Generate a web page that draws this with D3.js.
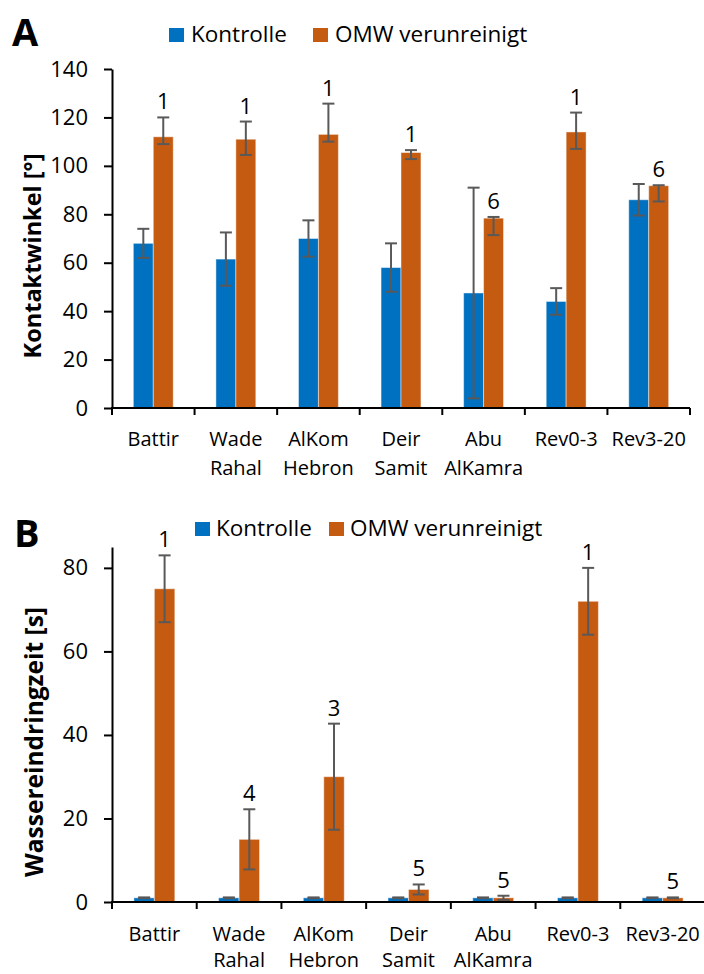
<!DOCTYPE html>
<html>
<head>
<meta charset="utf-8">
<script src="https://cdn.jsdelivr.net/npm/d3@7"></script>
<style>
  html, body { margin: 0; padding: 0; background: #fff; }
  svg { display: block; }
  text { font-family: "Open Sans", "Noto Sans", sans-serif; fill: #000; }
</style>
</head>
<body>
<svg id="chart" width="704" height="974"></svg>
<script>
// Sampling sites
const categories = ["Battir", "Wade Rahal", "AlKom Hebron", "Deir Samit", "Abu AlKamra", "Rev0-3", "Rev3-20"];
const seriesNames = ["Kontrolle", "OMW verunreinigt"];
const seriesColors = ["#0070C0", "#C55A11"];

// Panel A: contact angle [°]
const contactKontrolle     = [68, 61.5, 70, 58, 47.5, 44, 86];
const contactKontrolleErr  = [6, 11, 7.5, 10, 43.5, 5.5, 6.5];
const contactOmw           = [112, 111, 113, 105.5, 78.4, 114, 91.8];
const contactOmwErrUp      = [8, 7.3, 12.7, 1, 0.5, 8, 0.2];
const contactOmwErrDown    = [3, 6.5, 3, 2.7, 7, 7, 6.5];
const contactOmwLabels     = ["1", "1", "1", "1", "6", "1", "6"];
const contactTicks         = [0, 20, 40, 60, 80, 100, 120, 140];

// Panel B: water penetration time [s]
const waterKontrolle       = [1, 1, 1, 1, 1, 1, 1];
const waterKontrolleErr    = [0.1, 0.1, 0.1, 0.1, 0.1, 0.1, 0.1];
const waterOmw             = [75, 15, 30, 3, 1, 72, 1];
const waterOmwErr          = [8, 7.2, 12.7, 1.2, 0.5, 8, 0.1];
const waterOmwLabels       = ["1", "4", "3", "5", "5", "1", "5"];
const waterTicks           = [0, 20, 40, 60, 80];

const svg = d3.select("#chart");

function buildSeries(k, kErrUp, kErrDown, o, oErrUp, oErrDown) {
  return categories.map((c, i) => ({
    cat: c,
    bars: [
      { s: 0, v: k[i], up: kErrUp[i], down: kErrDown[i] },
      { s: 1, v: o[i], up: oErrUp[i], down: oErrDown[i] }
    ]
  }));
}

function drawPanel(p) {
  const g = svg.append("g");

  const x0 = d3.scaleBand().domain(categories).range([p.x0, p.x1]).padding(0);
  const x1 = d3.scaleBand().domain([0, 1]).range([0, x0.bandwidth()])
    .paddingInner(0).paddingOuter(1.07);
  const y = d3.scaleLinear().domain(p.yDomain).range([p.yBottom, p.yTop]);

  // bars
  const groups = g.selectAll("g.grp").data(p.data).join("g")
    .attr("transform", d => `translate(${x0(d.cat)},0)`);

  groups.selectAll("rect").data(d => d.bars).join("rect")
    .attr("x", b => x1(b.s))
    .attr("width", x1.bandwidth())
    .attr("y", b => y(b.v))
    .attr("height", b => y(0) - y(b.v))
    .attr("fill", b => seriesColors[b.s])
    .attr("stroke", "#fff").attr("stroke-opacity", 0.45).attr("stroke-width", 1);

  // error bars
  const capHalf = 6;
  const eb = groups.selectAll("g.err").data(d => d.bars).join("g")
    .attr("class", "err")
    .attr("stroke", "#595959").attr("stroke-width", 2);
  eb.append("line")
    .attr("x1", b => x1(b.s) + x1.bandwidth() / 2)
    .attr("x2", b => x1(b.s) + x1.bandwidth() / 2)
    .attr("y1", b => y(b.v + b.up))
    .attr("y2", b => y(Math.max(0, b.v - b.down)));
  eb.append("line")
    .attr("x1", b => x1(b.s) + x1.bandwidth() / 2 - capHalf)
    .attr("x2", b => x1(b.s) + x1.bandwidth() / 2 + capHalf)
    .attr("y1", b => y(b.v + b.up)).attr("y2", b => y(b.v + b.up));
  eb.append("line")
    .attr("x1", b => x1(b.s) + x1.bandwidth() / 2 - capHalf)
    .attr("x2", b => x1(b.s) + x1.bandwidth() / 2 + capHalf)
    .attr("y1", b => y(Math.max(0, b.v - b.down))).attr("y2", b => y(Math.max(0, b.v - b.down)));

  // group labels above the OMW bars
  groups.append("text")
    .attr("x", x1(1) + x1.bandwidth() / 2)
    .attr("y", (d, i) => y(d.bars[1].v + d.bars[1].up) - 8)
    .attr("text-anchor", "middle")
    .style("font-size", "22px")
    .text((d, i) => p.labels[i]);

  // y axis
  const yAxis = g.append("g")
    .attr("transform", `translate(${p.x0},0)`)
    .call(d3.axisLeft(y).tickValues(p.ticks).tickSize(8).tickPadding(16).tickSizeOuter(0));
  yAxis.select(".domain").attr("stroke", "#000").attr("stroke-width", 2);
  yAxis.selectAll(".tick line").attr("stroke", "#000").attr("stroke-width", 2);
  yAxis.selectAll(".tick text").style("font-size", "22px")
    .style("font-family", "'Open Sans', sans-serif").attr("fill", "#000");

  // x axis with ticks between categories
  g.append("line")
    .attr("x1", p.x0 - 1).attr("x2", p.x1)
    .attr("y1", y(0)).attr("y2", y(0))
    .attr("stroke", "#000").attr("stroke-width", 2);
  const boundaries = categories.map(c => x0(c)).concat([x0(categories[categories.length - 1]) + x0.bandwidth()]);
  g.selectAll("line.xt").data(boundaries).join("line")
    .attr("class", "xt")
    .attr("x1", d => d).attr("x2", d => d)
    .attr("y1", y(0)).attr("y2", y(0) + 7)
    .attr("stroke", "#000").attr("stroke-width", 2);

  // category labels (split on space into two lines)
  const cl = g.selectAll("text.cat").data(categories).join("text")
    .attr("class", "cat")
    .attr("text-anchor", "middle")
    .style("font-size", "20px");
  cl.each(function (c) {
    const parts = c.split(" ");
    const t = d3.select(this);
    parts.forEach((part, k) => {
      t.append("tspan")
        .attr("x", x0(c) + x0.bandwidth() / 2)
        .attr("y", k === 0 ? p.catY1 : p.catY2)
        .text(part);
    });
  });

  // y axis title
  g.append("text")
    .attr("transform", `translate(${p.titleX},${p.titleY}) rotate(-90)`)
    .attr("text-anchor", "middle")
    .style("font-size", p.titleSize).style("font-weight", "bold")
    .text(p.title);

  // panel letter
  g.append("text")
    .attr("x", p.letterX).attr("y", p.letterY)
    .style("font-size", "38px").style("font-weight", "bold")
    .text(p.letter);

  // legend
  const lg = g.append("g");
  p.legend.forEach((it, k) => {
    lg.append("rect")
      .attr("x", it.sx).attr("y", p.legendY - 14)
      .attr("width", 15).attr("height", 14)
      .attr("fill", seriesColors[k]);
    lg.append("text")
      .attr("x", it.tx).attr("y", p.legendY)
      .style("font-size", "22.5px")
      .text(seriesNames[k]);
  });
}

drawPanel({
  data: buildSeries(contactKontrolle, contactKontrolleErr, contactKontrolleErr,
                    contactOmw, contactOmwErrUp, contactOmwErrDown),
  labels: contactOmwLabels,
  ticks: contactTicks,
  yDomain: [0, 140],
  x0: 112, x1: 690, yBottom: 408, yTop: 69,
  catY1: 446, catY2: 475,
  title: "Kontaktwinkel [°]", titleX: 41, titleY: 256, titleSize: "23.5px",
  letter: "A", letterX: 12, letterY: 46,
  legendY: 42, legend: [{ sx: 169, tx: 191 }, { sx: 313, tx: 335 }]
});

drawPanel({
  data: buildSeries(waterKontrolle, waterKontrolleErr, waterKontrolleErr,
                    waterOmw, waterOmwErr, waterOmwErr),
  labels: waterOmwLabels,
  ticks: waterTicks,
  yDomain: [0, 85],
  x0: 112, x1: 705, yBottom: 902, yTop: 547,
  catY1: 941, catY2: 967,
  title: "Wassereindringzeit [s]", titleX: 43, titleY: 742, titleSize: "24.5px",
  letter: "B", letterX: 14, letterY: 547,
  legendY: 536, legend: [{ sx: 195, tx: 216 }, { sx: 329, tx: 350 }]
});
</script>
</body>
</html>
